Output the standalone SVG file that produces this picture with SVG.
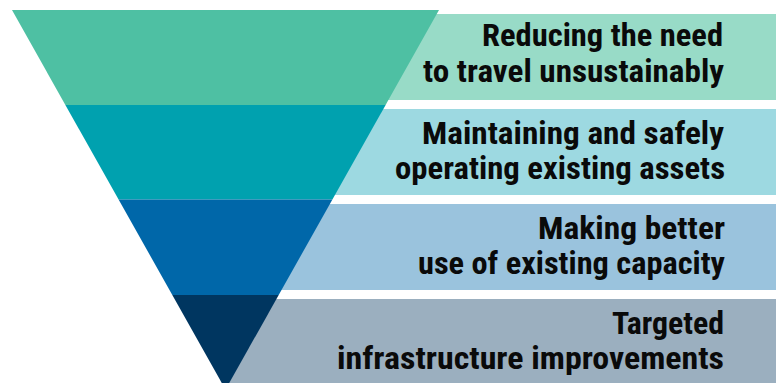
<svg xmlns="http://www.w3.org/2000/svg" width="776" height="383" viewBox="0 0 776 383">
  <style>
    .label { font-family: "Liberation Sans Narrow", "Roboto Condensed", "DejaVu Sans Condensed", "Liberation Sans", sans-serif; font-stretch: condensed; font-weight: bold; font-size: 32px; fill: #0a0a0a; text-anchor: end; }
  </style>
  <rect width="776" height="383" fill="#ffffff"/>

  <!-- Level 1: top band of the inverted triangle -->
  <g id="level-reduce">
    <rect x="226" y="14" width="550" height="86" fill="#98dbc7"/>
    <polygon points="12,10 439,10 385.6,105 65.4,105" fill="#4ec0a3"/>
    <text class="label"><tspan x="723" y="46" textLength="241" lengthAdjust="spacingAndGlyphs">Reducing the need</tspan><tspan x="724" y="82" textLength="301" lengthAdjust="spacingAndGlyphs">to travel unsustainably</tspan></text>
  </g>

  <!-- Level 2 -->
  <g id="level-maintain">
    <rect x="226" y="109" width="550" height="86" fill="#9dd9e1"/>
    <polygon points="65.4,105 385.6,105 332.4,199.5 118.6,199.5" fill="#00a1af"/>
    <text class="label"><tspan x="724" y="144" textLength="302" lengthAdjust="spacingAndGlyphs">Maintaining and safely</tspan><tspan x="725" y="179" textLength="330" lengthAdjust="spacingAndGlyphs">operating existing assets</tspan></text>
  </g>

  <!-- Level 3 -->
  <g id="level-capacity">
    <rect x="226" y="204" width="550" height="86" fill="#9ac3dd"/>
    <polygon points="118.6,199.5 332.4,199.5 278.7,295 172.3,295" fill="#0067a9"/>
    <text class="label"><tspan x="725" y="239" textLength="187" lengthAdjust="spacingAndGlyphs">Making better</tspan><tspan x="725" y="274" textLength="307" lengthAdjust="spacingAndGlyphs">use of existing capacity</tspan></text>
  </g>

  <!-- Level 4: apex of the triangle -->
  <g id="level-infrastructure">
    <rect x="226" y="299" width="550" height="84" fill="#9bafbf"/>
    <polygon points="172.3,295 278.7,295 225.5,389.6" fill="#003660"/>
    <text class="label"><tspan x="724" y="334" textLength="112" lengthAdjust="spacingAndGlyphs">Targeted</tspan><tspan x="724" y="369" textLength="387" lengthAdjust="spacingAndGlyphs">infrastructure improvements</tspan></text>
  </g>

  <!-- no connectors in this figure -->
  <g id="connectors"/>
</svg>
